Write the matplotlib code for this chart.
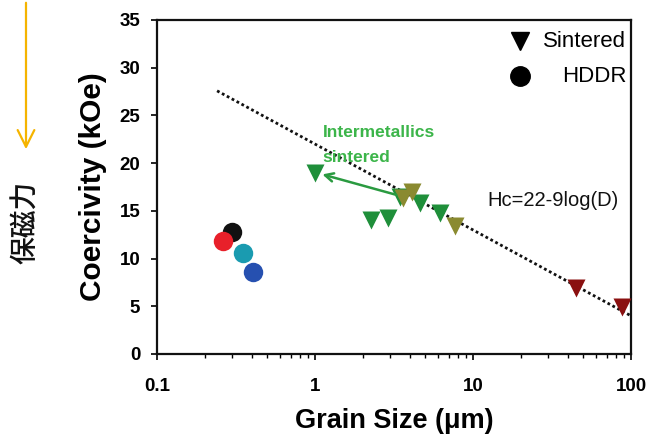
import matplotlib
matplotlib.use("Agg")
import matplotlib.pyplot as plt
import numpy as np
from matplotlib.ticker import LogLocator, FixedLocator, NullFormatter

plt.rcParams['font.family'] = ['Liberation Sans', 'DejaVu Sans']

# Sintered data (grain size um, coercivity kOe)
sint_green_d = [1.0, 2.25, 2.9, 3.45, 4.6, 6.2]
sint_green_hc = [19.0, 14.0, 14.3, 16.5, 15.8, 14.8]
sint_olive_d = [3.6, 4.1, 7.7]
sint_olive_hc = [16.3, 17.0, 13.4]
sint_red_d = [45.0, 88.0]
sint_red_hc = [6.9, 4.9]

# HDDR data
hddr_d = [0.30, 0.26, 0.35, 0.405]
hddr_hc = [12.8, 11.8, 10.6, 8.6]
hddr_colors = ['#111111', '#e8202a', '#1a9bb0', '#2650b0']

# Fit line Hc = 22 - 9 log(D)
fit_d = [0.24, 100.0]

xticks = [0.1, 1, 10, 100]
xticklabels = ['0.1', '1', '10', '100']
yticks = [0, 5, 10, 15, 20, 25, 30, 35]

fig = plt.figure(figsize=(6.5, 4.41), dpi=100)
ax = fig.add_axes([157/650, 1-354/441, (631-157)/650, (354-20)/441])

fd = np.array(fit_d)
ax.plot(fd, 22 - 9*np.log10(fd), linestyle=(0, (1, 1)), color='#111111', lw=2, zorder=2)

ms = 13
ax.plot(sint_green_d, sint_green_hc, 'v', color='#1f8f3a', ms=ms, mec='none', zorder=3)
ax.plot(sint_olive_d, sint_olive_hc, 'v', color='#8a8a30', ms=ms, mec='none', zorder=3)
ax.plot(sint_red_d, sint_red_hc, 'v', color='#8a1010', ms=ms, mec='none', zorder=3)
for d, h, c in zip(hddr_d, hddr_hc, hddr_colors):
    ax.plot([d], [h], 'o', color=c, ms=14, mec='none', zorder=3)

ax.annotate('', xy=(1.07, 18.9), xytext=(3.4, 16.6),
            arrowprops=dict(arrowstyle='->', color='#2a9a40', lw=1.8, mutation_scale=15))
ax.text(1.12, 23.2, 'Intermetallics', color='#3cb54a', fontsize=12.5,
        fontweight='bold', ha='left', va='center')
ax.text(1.12, 20.6, 'sintered', color='#3cb54a', fontsize=12.5,
        fontweight='bold', ha='left', va='center')
ax.text(12.3, 16.1, 'Hc=22-9log(D)', color='#111111', fontsize=14.5, ha='left', va='center')

ax.set_xscale('log')
ax.set_xlim(0.1, 100)
ax.set_ylim(0, 35)
ax.xaxis.set_major_locator(FixedLocator(xticks))
ax.set_xticklabels(xticklabels)
ax.xaxis.set_minor_locator(LogLocator(base=10, subs=np.arange(2, 10)))
ax.xaxis.set_minor_formatter(NullFormatter())
ax.set_yticks(yticks)
ax.tick_params(axis='both', which='major', direction='out', length=4, width=1.2,
               labelsize=13.5)
ax.tick_params(axis='y', which='major', pad=8)
ax.tick_params(axis='x', which='major', pad=13)
ax.tick_params(axis='x', which='minor', direction='out', length=3, width=1)
for lab in ax.get_xticklabels() + ax.get_yticklabels():
    lab.set_fontweight('bold')
for s in ax.spines.values():
    s.set_linewidth(1.6)
    s.set_color('#111111')

ax.set_xlabel('Grain Size (\u03bcm)', fontsize=19.5, fontweight='bold', labelpad=10)
ax.set_ylabel('Coercivity (kOe)', fontsize=21.5, fontweight='bold', labelpad=9)

# Legend (manual, right-aligned labels)
leg_x = 0.765
ax.plot([leg_x], [0.937], 'v', color='black', ms=13, transform=ax.transAxes, clip_on=False)
ax.plot([leg_x], [0.832], 'o', color='black', ms=14, transform=ax.transAxes, clip_on=False)
ax.text(0.99, 0.937, 'Sintered', fontsize=16, ha='right', va='center', transform=ax.transAxes)
ax.text(0.99, 0.832, 'HDDR', fontsize=16, ha='right', va='center', transform=ax.transAxes)

# Chinese annotation and orange arrow
fig.text(26/650, 1-222/441, '保磁力', rotation=90, fontsize=20, fontweight='medium',
         family=['Noto Sans CJK JP', 'DejaVu Sans'], ha='center', va='center', color='#111111')
fig.patches.append(matplotlib.patches.FancyArrowPatch(
    (26/650, 1.0), (26/650, 1-152/441), transform=fig.transFigure,
    arrowstyle='->', color='#f5b400', lw=1.6, mutation_scale=30))

fig.savefig('out.png', dpi=100)
